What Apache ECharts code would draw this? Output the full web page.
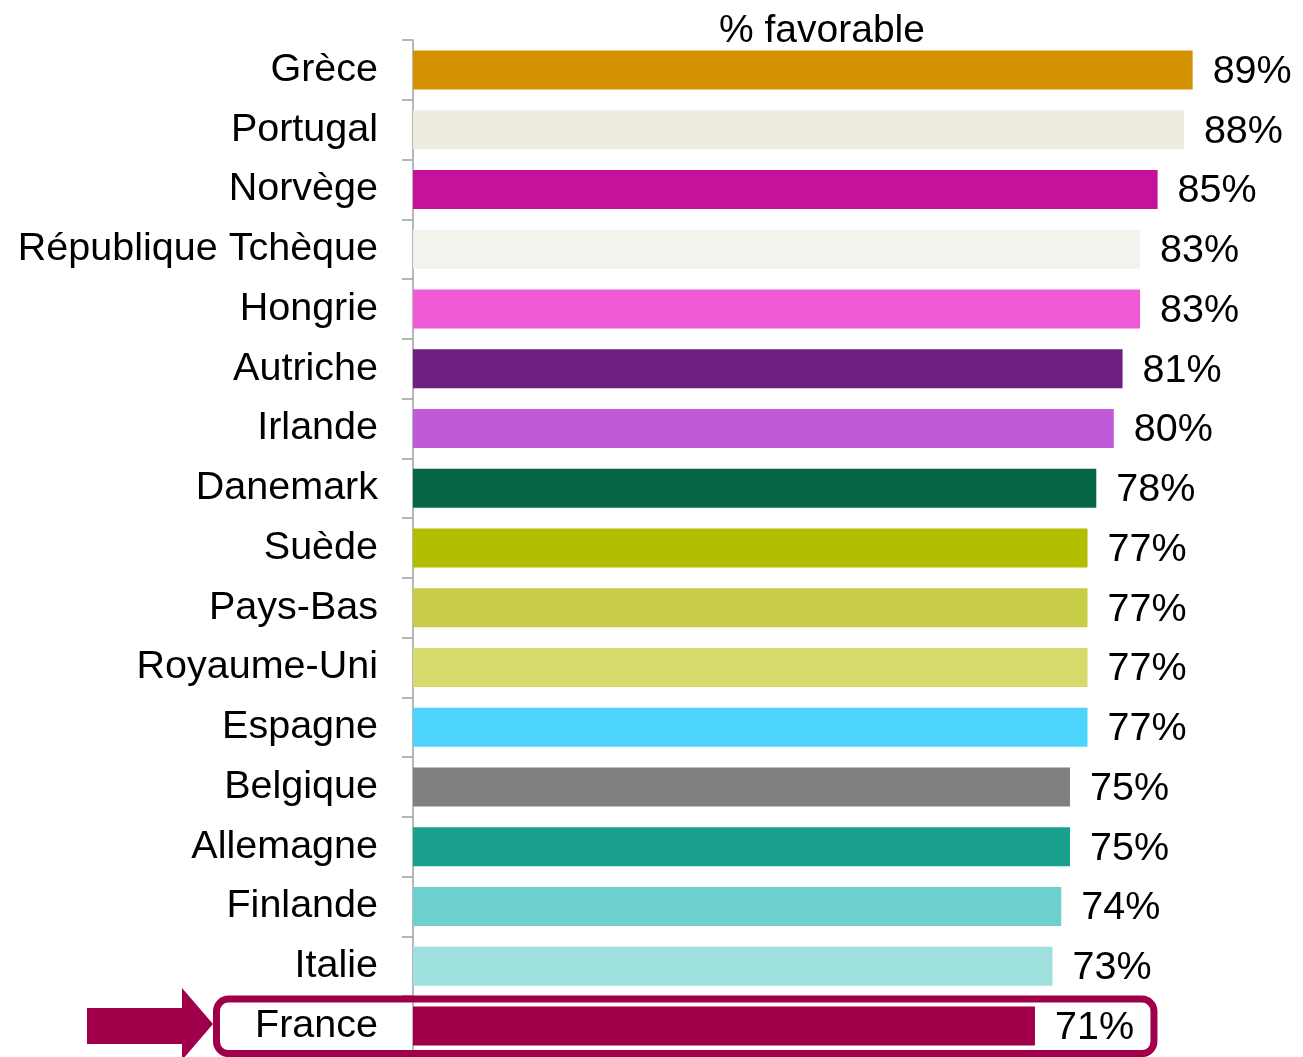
<!DOCTYPE html>
<html>
<head>
<meta charset="utf-8">
<script src="https://cdn.jsdelivr.net/npm/echarts@6/dist/echarts.min.js"></script>
<style>
html,body{margin:0;padding:0;background:#fff;}
#chart{width:1303px;height:1057px;}
</style>
</head>
<body>
<div id="chart"></div>
<script>
const categories = ["Grèce","Portugal","Norvège","République Tchèque","Hongrie","Autriche","Irlande","Danemark","Suède","Pays-Bas","Royaume-Uni","Espagne","Belgique","Allemagne","Finlande","Italie","France"];
const values = [89,88,85,83,83,81,80,78,77,77,77,77,75,75,74,73,71];
const colors = ["#D39200","#EEEBE1","#C5129D","#F3F2EC","#F05AD4","#6E2080","#C05AD8","#036446","#B4BE00","#C6CC46","#D6DA6A","#4CD4FC","#808080","#19A08E","#6CD0CE","#9EE0DE","#A0004A"];
const titleText = "% favorable";
const highlight = "France";
const accent = "#A0004A";

const chart = echarts.init(document.getElementById('chart'));
const font = "'Liberation Sans', Arial, sans-serif";
const option = {
  animation: false,
  backgroundColor: '#fff',
  title: {
    text: titleText, left: 817, top: 7, textAlign: 'center',
    textStyle: {fontFamily: font, fontSize: 39, fontWeight: 'normal', color: '#000'}
  },
  grid: {left: 413, top: 40, width: 876, height: 1016, containLabel: false},
  xAxis: {type: 'value', min: 0, max: 100, show: false},
  yAxis: {
    type: 'category', data: categories, inverse: true,
    axisLine: {show: true, lineStyle: {color: '#A0A0A0', width: 1.5}},
    axisTick: {show: true, length: 11, lineStyle: {color: '#A0A0A0', width: 1.5}},
    axisLabel: {margin: 35, fontFamily: font, fontSize: 39.5, color: '#000'}
  },
  series: [{
    type: 'bar', barWidth: 39,
    data: values.map((v, i) => ({value: v, itemStyle: {color: colors[i]}})),
    label: {show: true, position: 'right', distance: 20, offset: [0, 2], formatter: '{c}%',
      fontFamily: font, fontSize: 39.5, color: '#000'}
  }]
};
chart.setOption(option);

const cy = chart.convertToPixel({yAxisIndex: 0}, highlight);
const xEnd = chart.convertToPixel({xAxisIndex: 0}, values[categories.indexOf(highlight)]);
chart.setOption({
  graphic: [
    {type: 'rect', z: 100,
     shape: {x: 216.5, y: cy - 27, width: xEnd + 119 - 216.5, height: 54.5, r: 12},
     style: {fill: 'none', stroke: accent, lineWidth: 7}},
    {type: 'polygon', z: 100,
     shape: {points: [[87, cy - 18], [182, cy - 18], [182, cy - 38], [213, cy - 2], [182, cy + 34], [182, cy + 18], [87, cy + 18]]},
     style: {fill: accent}}
  ]
});
</script>
</body>
</html>
